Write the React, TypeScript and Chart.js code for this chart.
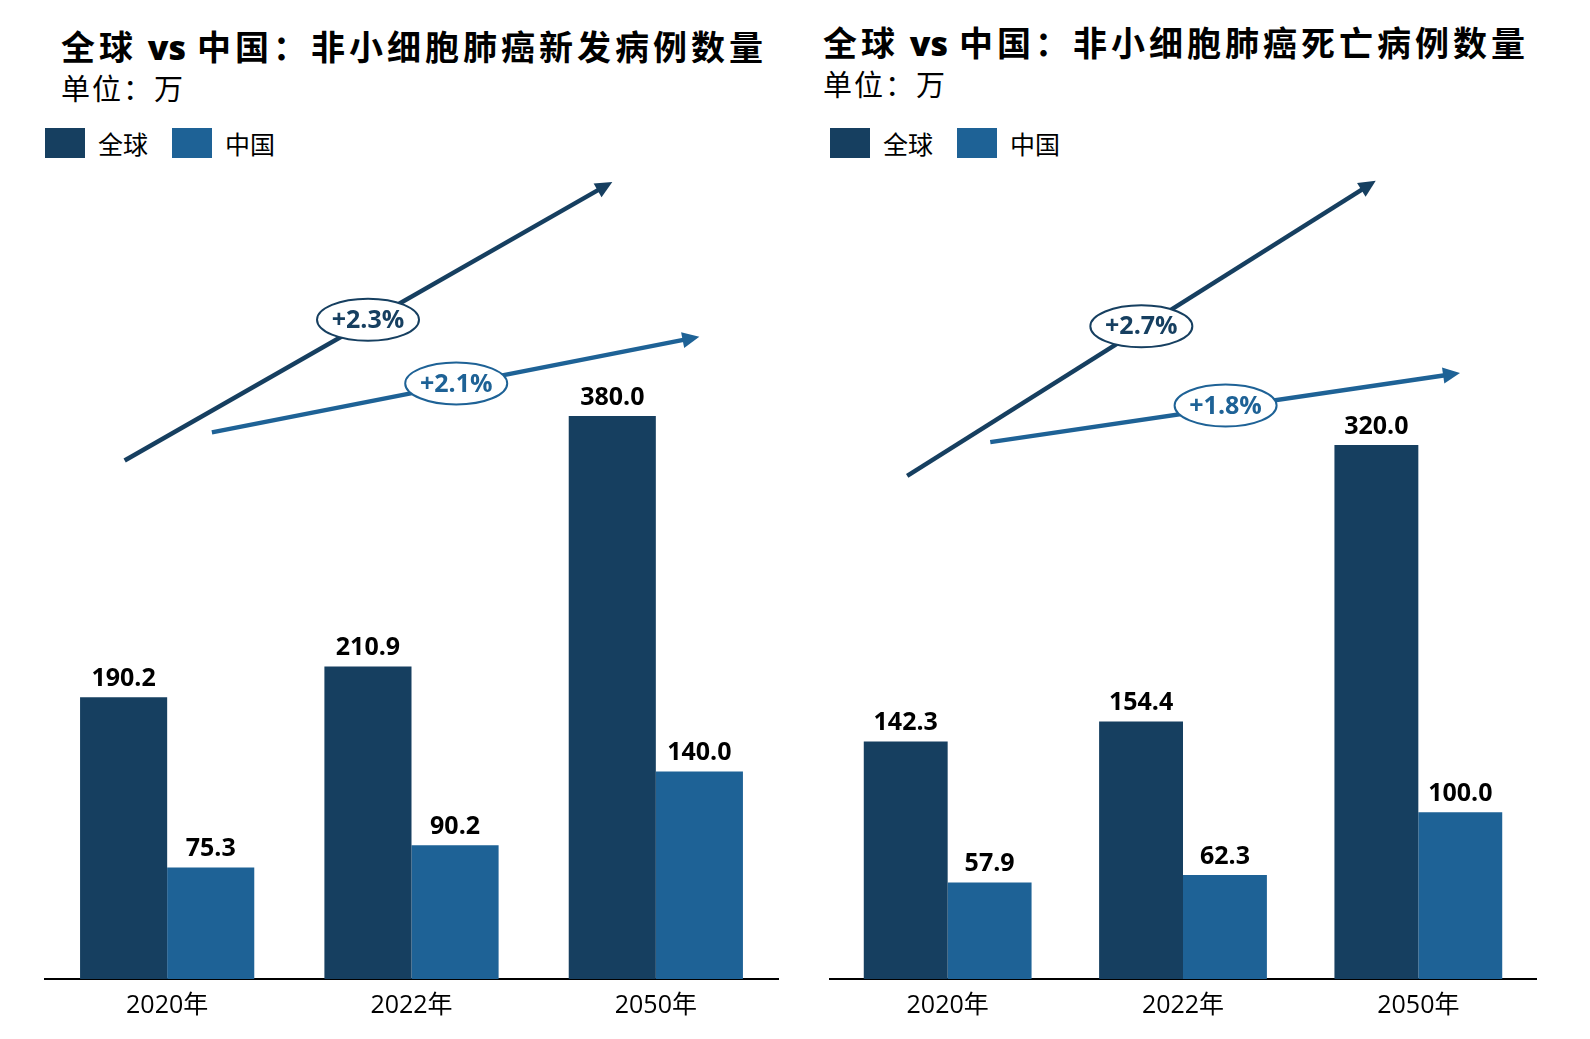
import { useEffect, useRef } from "react";
import { Chart, registerables, Plugin } from "chart.js";

Chart.register(...registerables);

// data
const categories = ["2020年", "2022年", "2050年"];
const seriesNames = ["全球", "中国"];
const newGlobal = [190.2, 210.9, 380.0];
const newChina = [75.3, 90.2, 140.0];
const deathGlobal = [142.3, 154.4, 320.0];
const deathChina = [57.9, 62.3, 100.0];
const newGrowth = ["+2.3%", "+2.1%"];
const deathGrowth = ["+2.7%", "+1.8%"];

const DARK = "#163f60";
const LIGHT = "#1e6296";
const CJK = "'Noto Sans CJK SC', sans-serif";
const NUM = "'Open Sans', 'Noto Sans CJK SC', sans-serif";

type Arrow = {
  from: [number, number];
  to: [number, number];
  at: [number, number];
  color: string;
};

// trend arrows, in (category index, value) space
const newArrows: Arrow[] = [
  { from: [-0.174, 350], to: [1.822, 538], at: [0.822, 445], color: DARK },
  { from: [0.183, 369], to: [2.178, 433.5], at: [1.183, 402], color: LIGHT },
];
const deathArrows: Arrow[] = [
  { from: [-0.172, 301.6], to: [1.819, 478.4], at: [0.823, 391.2], color: DARK },
  { from: [0.181, 321.8], to: [2.177, 363.2], at: [1.181, 343.7], color: LIGHT },
];

const valueLabels: Plugin<"bar"> = {
  id: "valueLabels",
  afterDatasetsDraw(chart) {
    const ctx = chart.ctx;
    ctx.save();
    ctx.font = `bold 25px ${NUM}`;
    ctx.fillStyle = "#000";
    ctx.textAlign = "center";
    ctx.textBaseline = "bottom";
    chart.data.datasets.forEach((ds, i) => {
      const meta = chart.getDatasetMeta(i);
      meta.data.forEach((bar, j) => {
        const v = ds.data[j] as number;
        ctx.fillText(v.toFixed(1), bar.x, bar.y - 6);
      });
    });
    ctx.restore();
  },
};

const trendArrows: Plugin<"bar"> = {
  id: "trendArrows",
  afterDraw(chart, _args, opts: any) {
    const ctx = chart.ctx;
    const xs = chart.scales.x;
    const ys = chart.scales.y;
    const arrows: Arrow[] = opts.arrows || [];
    const labels: string[] = opts.labels || [];
    ctx.save();
    arrows.forEach((a, i) => {
      const x1 = xs.getPixelForValue(a.from[0]);
      const y1 = ys.getPixelForValue(a.from[1]);
      const x2 = xs.getPixelForValue(a.to[0]);
      const y2 = ys.getPixelForValue(a.to[1]);
      const ang = Math.atan2(y2 - y1, x2 - x1);
      const head = 17;
      const half = 8;
      const bx = x2 - Math.cos(ang) * head;
      const by = y2 - Math.sin(ang) * head;
      ctx.strokeStyle = a.color;
      ctx.fillStyle = a.color;
      ctx.lineWidth = 4.5;
      ctx.beginPath();
      ctx.moveTo(x1, y1);
      ctx.lineTo(bx + Math.cos(ang) * 2, by + Math.sin(ang) * 2);
      ctx.stroke();
      ctx.beginPath();
      ctx.moveTo(x2, y2);
      ctx.lineTo(bx + Math.sin(ang) * half, by - Math.cos(ang) * half);
      ctx.lineTo(bx - Math.sin(ang) * half, by + Math.cos(ang) * half);
      ctx.closePath();
      ctx.fill();

      const cx = xs.getPixelForValue(a.at[0]);
      const cy = ys.getPixelForValue(a.at[1]);
      ctx.beginPath();
      ctx.ellipse(cx, cy, 51, 21, 0, 0, Math.PI * 2);
      ctx.fillStyle = "#fff";
      ctx.fill();
      ctx.lineWidth = 2;
      ctx.strokeStyle = a.color;
      ctx.stroke();
      ctx.fillStyle = a.color;
      ctx.font = `bold 25px ${NUM}`;
      ctx.textAlign = "center";
      ctx.textBaseline = "middle";
      ctx.fillText(labels[i] || "", cx, cy + 1);
    });
    ctx.restore();
  },
};

type PanelProps = {
  left: number;
  title: string;
  global: number[];
  china: number[];
  growth: string[];
  arrows: Arrow[];
  yMax: number;
  padLeft: number;
  padRight: number;
  titleLeft: number;
  titleTop: number;
  subTop: number;
};

const Panel = (p: PanelProps) => {
  const canvasRef = useRef<HTMLCanvasElement | null>(null);
  const chartRef = useRef<Chart | null>(null);

  useEffect(() => {
    if (!canvasRef.current) return;
    if (chartRef.current) chartRef.current.destroy();
    chartRef.current = new Chart(canvasRef.current, {
      type: "bar",
      data: {
        labels: categories,
        datasets: [
          { label: seriesNames[0], data: p.global, backgroundColor: DARK },
          { label: seriesNames[1], data: p.china, backgroundColor: LIGHT },
        ],
      },
      options: {
        animation: false,
        responsive: true,
        maintainAspectRatio: false,
        layout: { padding: { left: p.padLeft, right: p.padRight, top: 69, bottom: 6 } },
        datasets: { bar: { categoryPercentage: 0.713, barPercentage: 1, borderWidth: 0 } },
        scales: {
          x: {
            grid: { display: false, drawTicks: false },
            border: { display: true, color: "#000", width: 2 },
            ticks: { color: "#000", padding: 12, font: { family: NUM, size: 25 } },
          },
          y: { display: false, min: 0, max: p.yMax },
        },
        plugins: {
          legend: { display: false },
          tooltip: { enabled: false },
          trendArrows: { arrows: p.arrows, labels: p.growth },
        } as any,
      },
      plugins: [valueLabels, trendArrows],
    });
    return () => {
      if (chartRef.current) {
        chartRef.current.destroy();
        chartRef.current = null;
      }
    };
    // eslint-disable-next-line react-hooks/exhaustive-deps
  }, []);

  const legendItem = (name: string, color: string, x: number) => (
    <div style={{ position: "absolute", left: x, top: 128, display: "flex", alignItems: "center" }}>
      <div style={{ width: 40, height: 30, background: color }} />
      <span style={{ marginLeft: 13, fontFamily: CJK, fontSize: 25, lineHeight: "30px", color: "#000" }}>{name}</span>
    </div>
  );

  const [pre, post] = p.title.split(" vs ");

  return (
    <div style={{ position: "absolute", left: p.left, top: 0, width: 795, height: 1039 }}>
      <div
        style={{
          position: "absolute",
          left: p.titleLeft,
          top: p.titleTop,
          whiteSpace: "nowrap",
          fontFamily: CJK,
          fontSize: 34,
          lineHeight: "34px",
          fontWeight: 700,
          letterSpacing: 4,
          color: "#000",
        }}
      >
        {pre}
        <span style={{ fontFamily: NUM, fontWeight: 800, margin: "0 2px", letterSpacing: 0 }}> vs </span>
        {post}
      </div>
      <div
        style={{
          position: "absolute",
          left: p.titleLeft,
          top: p.subTop,
          whiteSpace: "nowrap",
          fontFamily: CJK,
          fontSize: 29,
          lineHeight: "29px",
          letterSpacing: 2,
          color: "#000",
        }}
      >
        单位：万
      </div>
      {legendItem(seriesNames[0], DARK, p.padLeft)}
      {legendItem(seriesNames[1], LIGHT, p.padLeft + 127)}
      <div style={{ position: "absolute", left: 0, top: 110, width: 795, height: 929 }}>
        <canvas ref={canvasRef}></canvas>
      </div>
    </div>
  );
};

export default function App() {
  return (
    <div style={{ position: "fixed", left: 0, top: 0, width: 1590, height: 1039, background: "#fff" }}>
      <Panel
        left={0}
        title="全球 vs 中国：非小细胞肺癌新发病例数量"
        global={newGlobal}
        china={newChina}
        growth={newGrowth}
        arrows={newArrows}
        yMax={540}
        padLeft={45}
        padRight={17}
        titleLeft={61}
        titleTop={29}
        subTop={73}
      />
      <Panel
        left={795}
        title="全球 vs 中国：非小细胞肺癌死亡病例数量"
        global={deathGlobal}
        china={deathChina}
        growth={deathGrowth}
        arrows={deathArrows}
        yMax={479.5}
        padLeft={35}
        padRight={54}
        titleLeft={28}
        titleTop={25}
        subTop={69}
      />
    </div>
  );
}
